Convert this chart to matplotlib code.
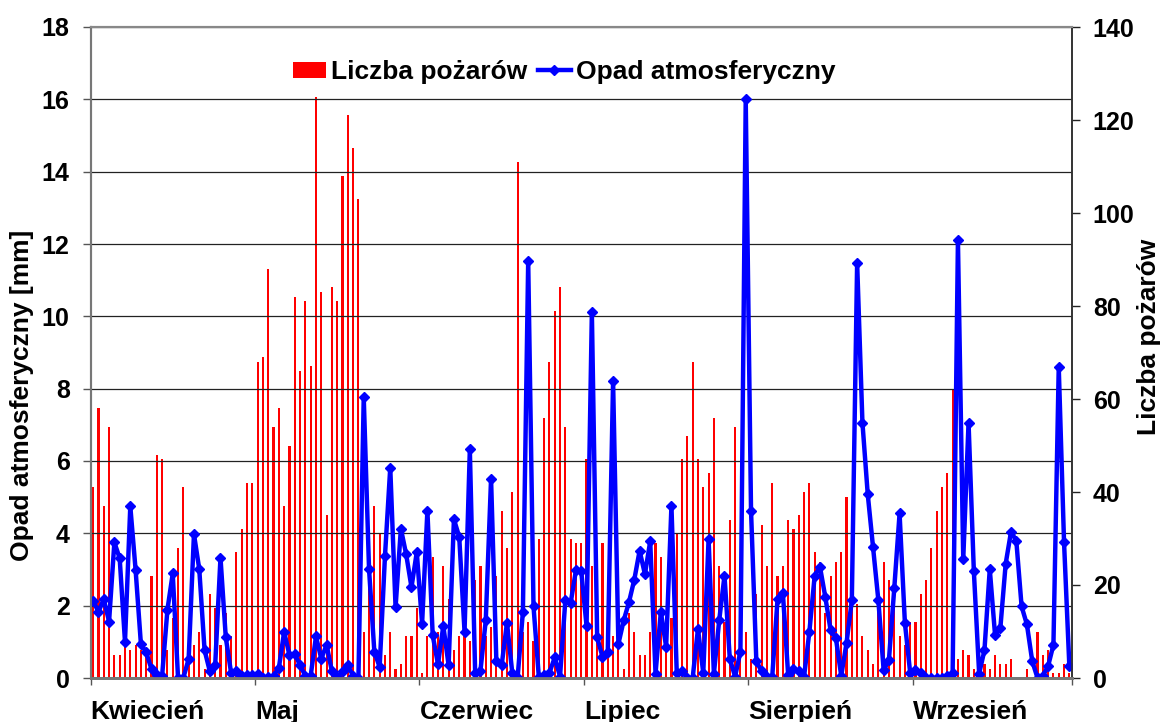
"""
Opad atmosferyczny i liczba pożarów - dane dzienne, kwiecień-wrzesień
"""

import numpy as np
import matplotlib
matplotlib.use('Agg')  # Backend sin GUI
import matplotlib.pyplot as plt

# Nazwy miesięcy (etykiety co 31 dni)
months = ['Kwiecień', 'Maj', 'Czerwiec', 'Lipiec', 'Sierpień', 'Wrzesień']

# Liczba pożarów (oś prawa)
pozary = [
    41, 58, 37, 54, 5, 5, 7, 6, 7, 6, 6, 22, 48, 47, 6, 13, 28, 41, 4, 7, 10, 2, 18, 15,
    7, 14, 9, 27, 32, 42, 42, 68, 69, 88, 54, 58, 37, 50, 82, 66, 81, 67, 125, 83, 35, 84, 81,
    108, 121, 114, 103, 10, 20, 37, 31, 5, 10, 2, 3, 9, 9, 15, 1, 9, 26, 10, 24, 17, 6, 9,
    12, 8, 21, 24, 9, 11, 22, 36, 28, 40, 111, 10, 12, 8, 30, 56, 68, 79, 84, 54, 30, 29, 29, 47,
    24, 10, 29, 17, 9, 9, 2, 14, 10, 5, 5, 10, 29, 26, 11, 13, 31, 47, 52, 68, 47, 41, 44, 56,
    24, 12, 34, 54, 8, 10, 4, 18, 33, 24, 42, 22, 24, 34, 32, 35, 40, 42, 27, 25, 14, 22, 25,
    27, 39, 32, 16, 9, 6, 3, 17, 25, 21, 19, 9, 7, 12, 12, 18, 21, 28, 36, 41, 44, 62, 4, 6,
    5, 2, 0, 3, 2, 5, 3, 3, 4, 0, 0, 2, 0, 10, 5, 6, 1, 1, 3, 1,
]

# Opad atmosferyczny [mm] (oś lewa)
opad = [
    2.13, 1.83, 2.18, 1.56, 3.75, 3.31, 1.0, 4.75, 2.99, 0.94, 0.71, 0.24, 0.09, 0.06, 1.89, 2.89,
    0, 0, 0.53, 3.98, 3.01, 0.77, 0.18, 0.35,
    3.33, 1.12, 0.14, 0.18, 0.06, 0.09, 0.08, 0.12, 0, 0.02, 0.06, 0.27, 1.28, 0.63, 0.67, 0.35,
    0.06, 0.06, 1.15, 0.53, 0.92, 0.18, 0.04,
    0.18, 0.35, 0.06, 0, 7.77, 3.01, 0.73, 0.30, 3.36, 5.82, 1.95, 4.13, 3.42, 2.51, 3.48, 1.5,
    4.63, 1.18, 0.38, 1.44, 0.35, 4.39, 3.9,
    1.28, 6.32, 0.15, 0.2, 1.59, 5.51, 0.47, 0.35, 1.53, 0.14, 0, 1.83, 11.53, 1.98, 0.04, 0.08,
    0.14, 0.57, 0.04, 2.15, 2.07, 2.98, 2.95, 1.44,
    10.12, 1.12, 0.59, 0.73, 8.2, 0.94, 1.59, 2.1, 2.72, 3.52, 2.87, 3.78, 0.12, 1.83, 0.86, 4.76,
    0.14, 0.2, 0, 0, 1.36, 0.14, 3.84, 0.12,
    1.59, 2.83, 0.53, 0.04, 0.73, 16.0, 4.63, 0.47, 0.18, 0.04, 0.04, 2.18, 2.36, 0.08, 0.24, 0.18,
    0.04, 1.28, 2.83, 3.07, 2.24, 1.32, 1.1,
    0.06, 0.97, 2.15, 11.48, 7.06, 5.08, 3.62, 2.15, 0.21, 0.51, 2.48, 4.55, 1.53, 0.14, 0.21, 0.14,
    0, 0, 0, 0, 0.06, 0.14, 12.1, 3.28,
    7.06, 2.95, 0.12, 0.77, 3.01, 1.18, 1.39, 3.16, 4.04, 3.8, 1.98, 1.48, 0.47, 0, 0.06, 0.33,
    0.92, 8.6, 3.75, 0.33,
]

plt.rcParams['font.family'] = ['Liberation Sans', 'DejaVu Sans']
plt.rcParams['font.weight'] = 'bold'

W, H = 1163, 722
fig = plt.figure(figsize=(W / 100, H / 100), dpi=100)
ax = fig.add_axes([90.5 / W, 44 / H, 981.5 / W, 651 / H])  # opad (lewa oś)
ax2 = ax.twinx()                                              # pożary (prawa oś)

# linia z opadem rysowana nad słupkami
ax.set_zorder(ax2.get_zorder() + 1)
ax.patch.set_visible(False)

days = np.arange(len(opad))

bars = ax2.bar(days, pozary, width=0.4, color='#ff0000', label='Liczba pożarów')
line, = ax.plot(days, opad, color='#0000ff', lw=3.2, marker='D', markersize=4.8,
                label='Opad atmosferyczny')

# osie
ax.set_xlim(-0.5, len(days) - 0.5)
ax.set_ylim(0, 18)
ax2.set_ylim(0, 140)
ax.set_yticks(np.arange(0, 19, 2))
ax2.set_yticks(np.arange(0, 141, 20))

ticks = list(np.arange(len(months)) * 31 - 0.5) + [len(days) - 0.5]
ax.set_xticks(ticks, months + [''])
for lbl in ax.get_xticklabels():
    lbl.set_ha('left')

ax.grid(axis='y', color='#222222', lw=0.9)
ax.tick_params(axis='y', length=6, width=1, color='#555555', pad=9, labelsize=18)
ax2.tick_params(axis='y', length=6, width=1, color='#222222', pad=9, labelsize=18)
ax.tick_params(axis='x', length=5, width=1, color='#555555', pad=11, labelsize=19)

for a in (ax, ax2):
    a.spines['top'].set_color('#888888')
    a.spines['top'].set_linewidth(1.5)
    a.spines['left'].set_color('#777777')
    a.spines['left'].set_linewidth(1.5)
    a.spines['bottom'].set_color('#777777')
    a.spines['bottom'].set_linewidth(2)
    a.spines['right'].set_color('#333333')
    a.spines['right'].set_linewidth(1.2)

# opisy osi
fig.text(22.5 / W, 1 - 395 / H, 'Opad atmosferyczny [mm]', rotation=90,
         ha='center', va='center', fontsize=19, fontweight='bold')
fig.text(1161 / W, 1 - 337 / H, 'Liczba pożarów', rotation=90,
         ha='right', va='center', fontsize=19, fontweight='bold')

# legenda
fig.legend([bars, line], ['Liczba pożarów', 'Opad atmosferyczny'],
           loc='center', bbox_to_anchor=(564 / W, 1 - 72 / H), ncol=2, frameon=False,
           prop={'size': 19, 'weight': 'bold'}, handlelength=1.25, handleheight=0.55,
           handletextpad=0.2, columnspacing=0.4, borderaxespad=0)

fig.savefig('out.png', dpi=100)
plt.close(fig)
